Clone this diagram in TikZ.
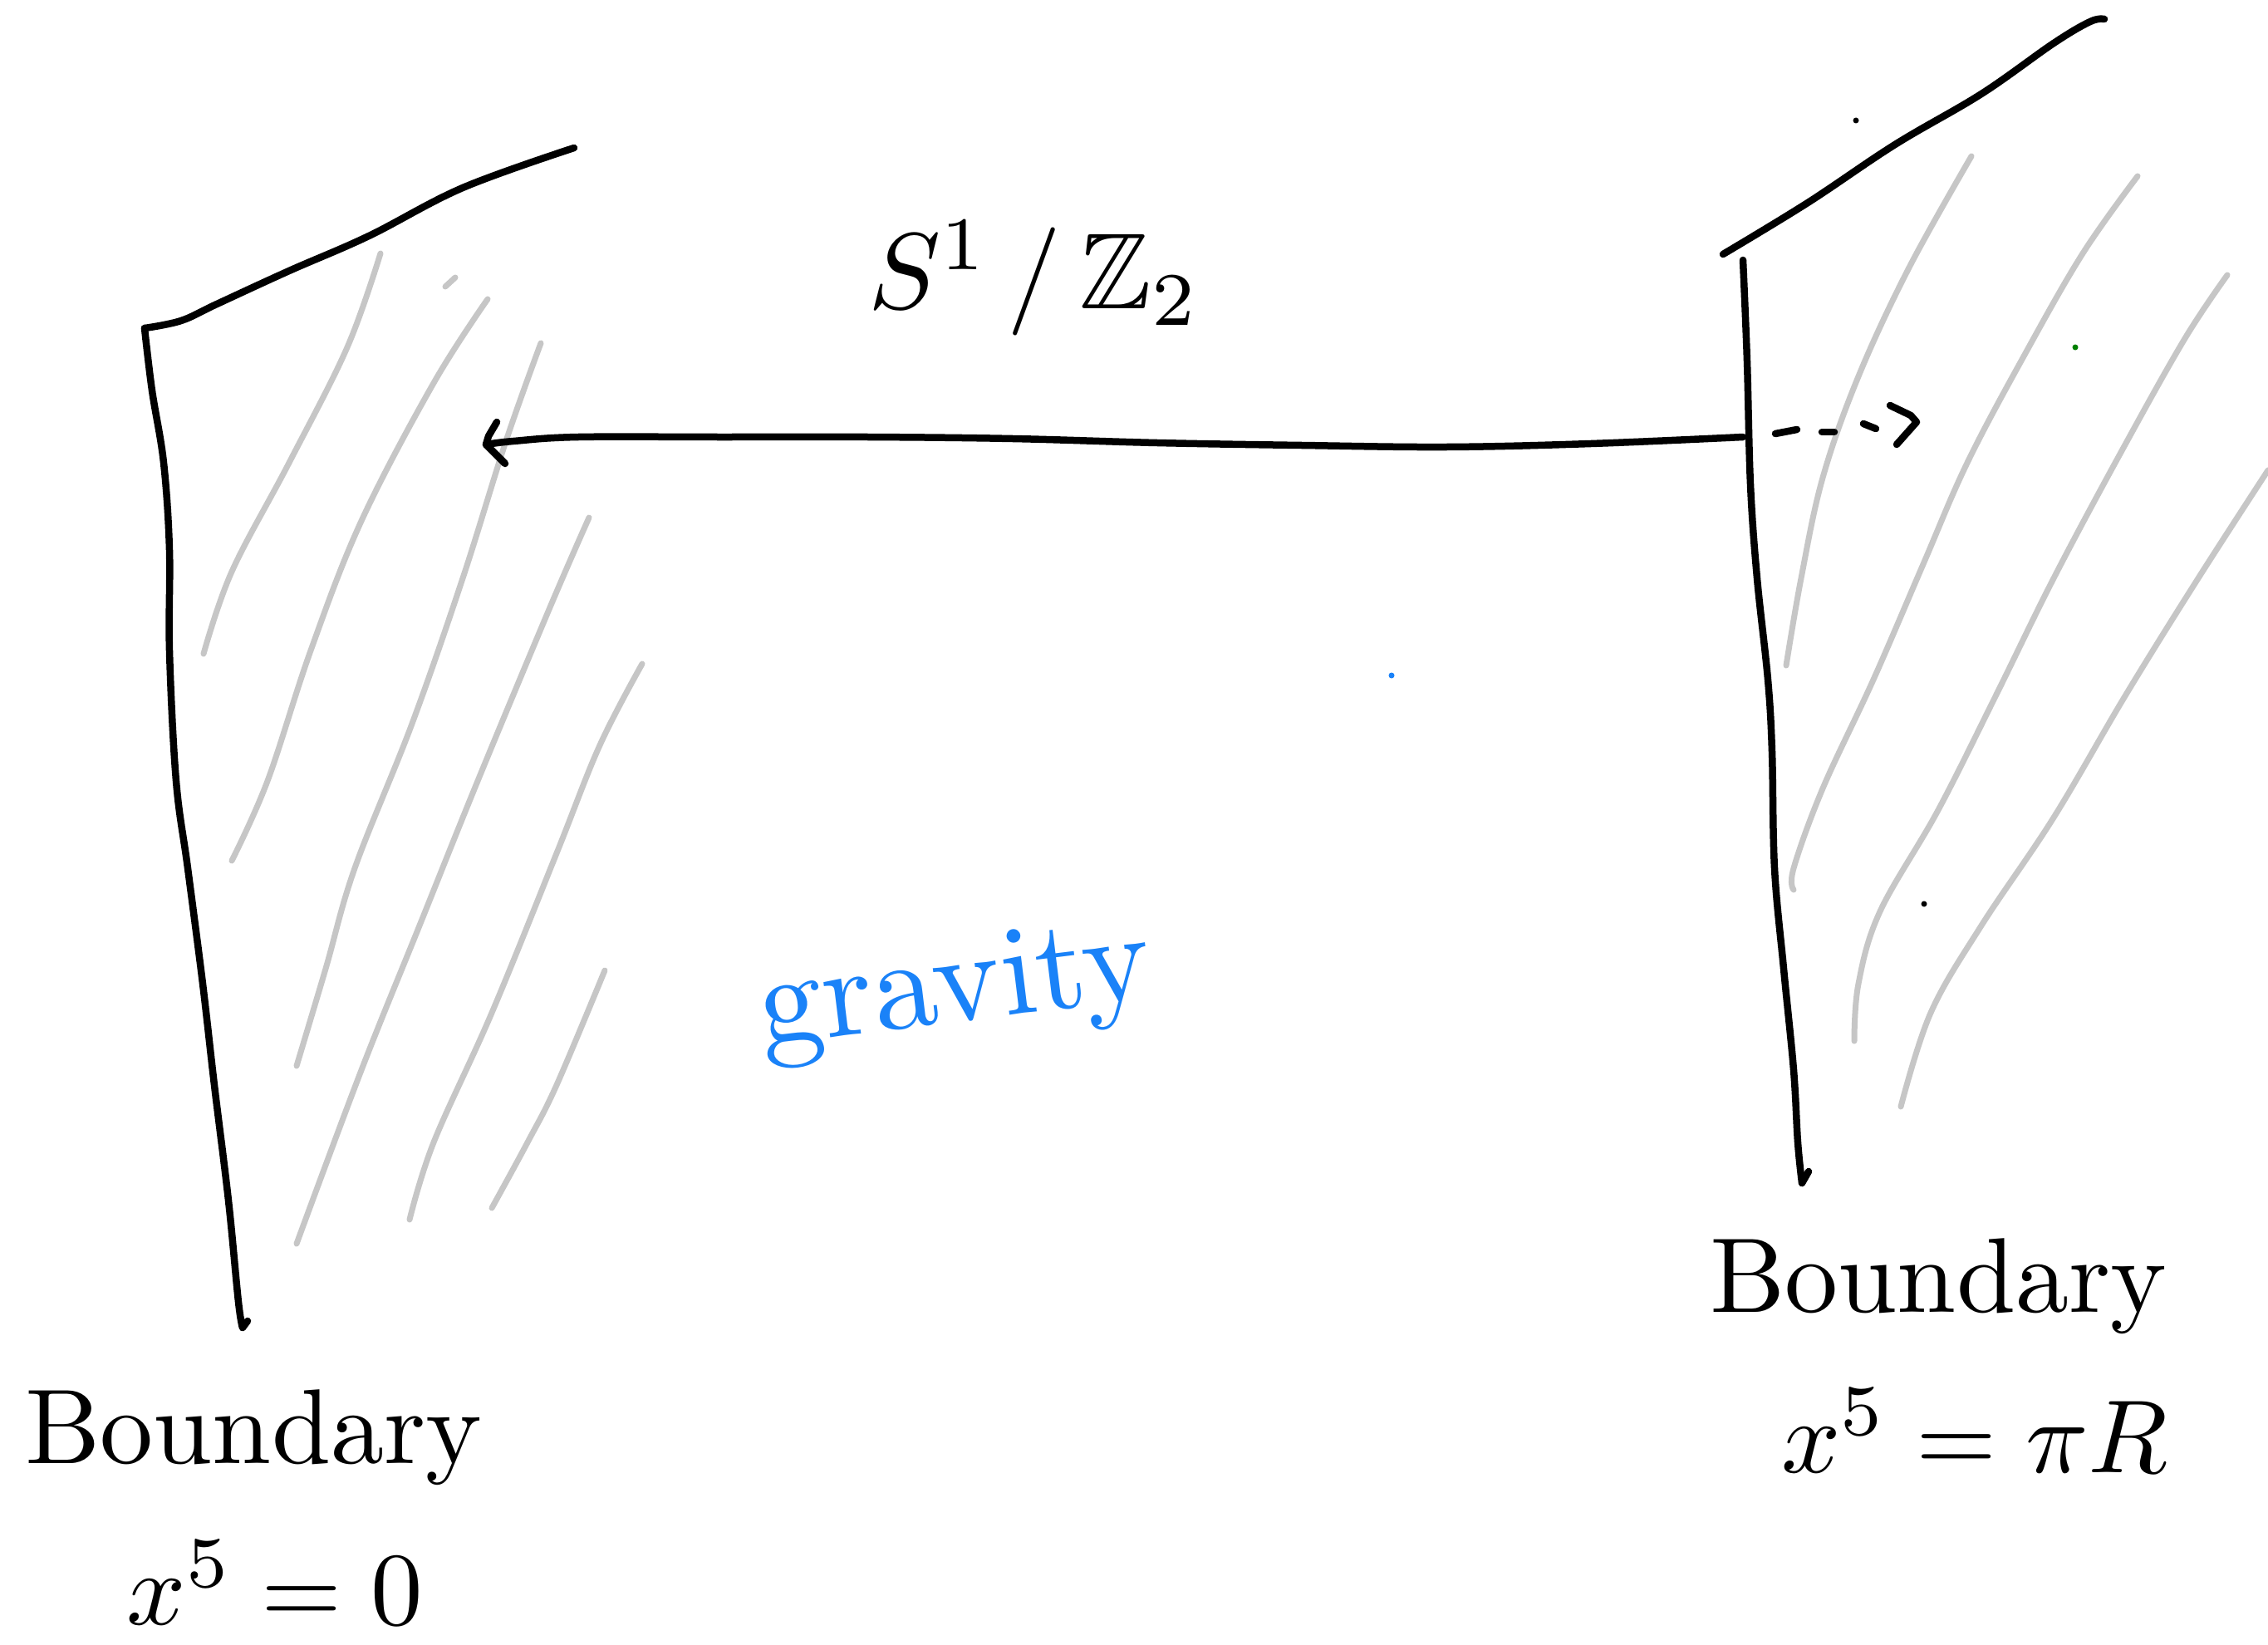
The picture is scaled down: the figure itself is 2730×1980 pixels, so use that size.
\documentclass[tikz,border=0pt]{standalone}
\usepackage{amssymb}
\definecolor{hatch}{RGB}{198,198,198}
\definecolor{pen}{RGB}{0,0,0}
\definecolor{bluepen}{RGB}{26,130,248}
\tikzset{
  inkline/.style={draw=pen,line width=8.5pt,line cap=round,line join=round},
  hatchline/.style={draw=hatch,line width=7pt,line cap=round,line join=round},
  bigtext/.style={text=pen,inner sep=0pt},
}
\begin{document}
\begin{tikzpicture}[x=1pt,y=-1pt]
\useasboundingbox (0,0) rectangle (2730,1980);
\fill[white] (0,0) rectangle (2730,1980);

% ---- left brane hatching
\draw[hatchline] plot[smooth,tension=0.6] coordinates {(458,305) (418,418) (348,557) (279,688) (245,787)};
\draw[hatchline] (536,345) -- (548,334);
\draw[hatchline] plot[smooth,tension=0.6] coordinates {(587,360) (522,461) (435,627) (374,783) (322,940) (279,1036)};
\draw[hatchline] plot[smooth,tension=0.6] coordinates {(651,413) (609,531) (557,696) (496,871) (427,1045) (392,1166) (357,1283)};
\draw[hatchline] plot[smooth,tension=0.6] coordinates {(709,623) (662,731) (575,940) (505,1114) (435,1288) (357,1497)};
\draw[hatchline] plot[smooth,tension=0.6] coordinates {(773,799) (722,897) (670,1027) (592,1219) (522,1375) (493,1468)};
\draw[hatchline] plot[smooth,tension=0.6] coordinates {(728,1168) (670,1306) (635,1375) (592,1454)};

% ---- right brane hatching
\draw[hatchline] plot[smooth,tension=0.6] coordinates {(2373,188) (2298,322) (2237,453) (2194,575) (2168,696) (2150,801)};
\draw[hatchline] plot[smooth,tension=0.6] coordinates {(2573,212) (2507,305) (2437,427) (2368,557) (2315,679) (2255,818) (2194,949) (2159,1045) (2159,1071)};
\draw[hatchline] plot[smooth,tension=0.6] coordinates {(2681,331) (2629,409) (2551,548) (2472,696) (2403,836) (2333,975) (2263,1097) (2237,1184) (2232,1253)};
\draw[hatchline] plot[smooth,tension=0.6] coordinates {(2730,566) (2646,696) (2559,836) (2472,984) (2385,1114) (2324,1219) (2288,1332)};

% ---- left brane
\draw[inkline] plot[smooth,tension=0.6] coordinates {(174,395) (218,386) (261,366) (348,326) (444,284) (557,226) (691,178)};
\draw[inkline] plot[smooth,tension=0.6] coordinates {(174,395) (183,470) (197,557) (204,662) (204,783) (212,940) (226,1045) (244,1184) (258,1306) (275,1445) (287,1567) (292,1598)};
\draw[inkline] (292,1598) -- (298,1590);

% ---- right brane
\draw[inkline] plot[smooth,tension=0.6] coordinates {(2074,306) (2176,244) (2281,174) (2385,113) (2472,52) (2516,26) (2533,23)};
\draw[inkline] plot[smooth,tension=0.6] coordinates {(2098,313) (2103,435) (2107,583) (2115,696) (2128,818) (2133,905) (2136,1045) (2147,1166) (2159,1288) (2164,1375) (2169,1424)};
\draw[inkline] (2169,1424) -- (2177,1410);

% ---- the fifth dimension arrow
\coordinate (ltip) at (585,535);
\coordinate (rbrane) at (2098,526);
\coordinate (rtip) at (2307,508);
\draw[inkline] plot[smooth,tension=0.6] coordinates {(rbrane) (1915,534) (1741,538) (1567,536) (1393,533) (1219,528) (1045,526) (870,526) (696,526) (618,531) (ltip)};
\draw[inkline] (598,508) -- (588,525) -- (ltip) -- (608,558);
\draw[inkline] (2137,522) -- (2163,517);
\draw[inkline] (2193,520) -- (2208,520);
\draw[inkline] (2243,510) -- (2258,516);
\draw[inkline] (2275,488) -- (2300,500) -- (rtip) -- (2283,535);

% ---- stray dots
\fill[pen] (2234,145) circle (3.5);
\fill[pen] (2316,1088) circle (3.5);
\fill[bluepen] (1675,813) circle (3.5);
\fill[green!50!black] (2498,418) circle (3.5);

% ---- labels
\node[bigtext,scale=13] (orb) at (1245,335) {$S^{1}\,/\,\mathbb{Z}_{2}$};
\node[bigtext,text=bluepen,scale=15.5,rotate=7] (grav) at (1150,1195) {gravity};
\node[bigtext,scale=12.8] (lb) at (305,1730) {Boundary};
\node[bigtext,scale=12.5] (lx) at (331,1905) {$x^{5}=0$};
\node[bigtext,scale=12.8] (rb) at (2333,1548) {Boundary};
\node[bigtext,scale=12.5] (rx) at (2377,1722) {$x^{5}=\pi R$};
\end{tikzpicture}
\end{document}
